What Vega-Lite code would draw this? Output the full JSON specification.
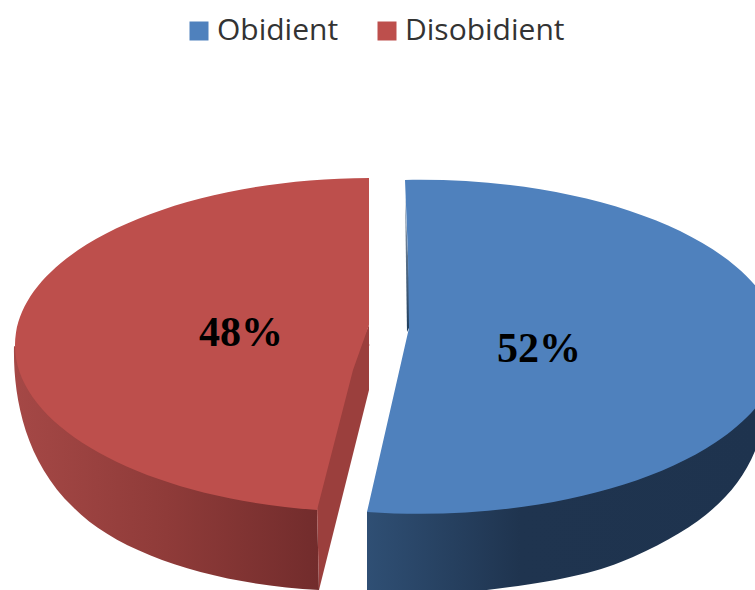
{
"$schema":"https://vega.github.io/schema/vega-lite/v6.json",
"width":755,"height":590,"padding":0,"autosize":"none",
"background":"white",
"view":{"stroke":null},
"data":{"values":[{"group":"Obidient","share":0.52},{"group":"Disobidient","share":0.48}]},
"encoding":{
 "x":{"field":"group","type":"nominal","axis":null,"scale":{"type":"point","padding":0,"domain":["Obidient","Disobidient"],"range":[410,369]}},
 "y":{"field":"group","type":"nominal","axis":null,"scale":{"type":"point","padding":0,"domain":["Obidient","Disobidient"],"range":[346,345]}}
},
"layer":[
 {"mark":{"type":"point","filled":true,"opacity":1,"shape":"square","size":1,"strokeWidth":0},
  "encoding":{
   "color":{"field":"group","type":"nominal","scale":{"domain":["Obidient","Disobidient"],"range":["#4f81bd","#bd4f4c"]},
     "legend":{"title":null,"orient":"none","legendX":184,"legendY":16,"direction":"horizontal","columns":2,"symbolType":"square","symbolSize":361,"symbolStrokeWidth":0,"symbolOpacity":1,"labelFont":"Open Sans","labelFontSize":30,"labelColor":"#333333","labelOffset":3,"columnPadding":33,"padding":0}}
  }},
 {"transform":[{"filter":"datum.group==='Disobidient'"}],
  "mark":{"type":"point","filled":true,"opacity":1,"size":4,"strokeWidth":0,"shape":"M-355,1 L-52,160 L-50,245 C-150,240 -250,210 -296,162 C-345,115 -356,50 -355,1 Z",
  "fill":{"gradient":"linear","x1":0,"x2":1,"y1":0,"y2":0,"stops":[{"offset":0,"color":"#a54846"},{"offset":0.5,"color":"#8f3b39"},{"offset":1,"color":"#722c2c"}]}}},
 {"transform":[{"filter":"datum.group==='Disobidient'"}],
  "mark":{"type":"point","filled":true,"opacity":1,"size":4,"strokeWidth":0,"fill":"#9b3f3d","shape":"M0,-20 L0,45 L-50,245 L-52,160 L-20,25 Z"}},
 {"transform":[{"filter":"datum.group==='Obidient'"}],
  "mark":{"type":"point","filled":true,"opacity":1,"size":4,"strokeWidth":0,"shape":"M-43,166 L-30,150 L360,-3 L360,40 C352,125 315,170 223,211 C170,235 100,243 -43,256 Z",
  "fill":{"gradient":"linear","x1":0,"x2":1,"y1":0,"y2":0,"stops":[{"offset":0,"color":"#2f4f74"},{"offset":0.38,"color":"#1f344f"},{"offset":1,"color":"#1e334e"}]}}},
 {"transform":[{"filter":"datum.group==='Obidient'"}],
  "mark":{"type":"point","filled":true,"opacity":1,"size":4,"strokeWidth":0,"shape":"M-5,-150 L-3,-14 L1,-22 L-2,-90 Z",
  "fill":{"gradient":"linear","x1":0,"x2":0,"y1":0,"y2":1,"stops":[{"offset":0,"color":"#8d9db0"},{"offset":1,"color":"#1d3c5c"}]}}},
 {"transform":[{"filter":"datum.group==='Obidient'"}],
  "mark":{"type":"point","filled":true,"opacity":1,"size":4,"strokeWidth":0,"fill":"#4f81bd","shape":"M-5,-166 A360,167 0 1 1 -43,166 L-1,-18 L-2,-90 Z"}},
 {"transform":[{"filter":"datum.group==='Disobidient'"}],
  "mark":{"type":"point","filled":true,"opacity":1,"size":4,"strokeWidth":0,"fill":"#bd4f4c","shape":"M0,-167 A357,167 0 0 0 -52,165 L-16,25 L0,-20 Z"}},
 {"transform":[{"filter":"datum.group==='Obidient'"}],
  "mark":{"type":"text","font":"Liberation Serif","fontWeight":"bold","fontSize":42,"color":"#000000","baseline":"middle","dx":129,"dy":3},
  "encoding":{"text":{"field":"share","type":"quantitative","format":".0%"}}},
 {"transform":[{"filter":"datum.group==='Disobidient'"}],
  "mark":{"type":"text","font":"Liberation Serif","fontWeight":"bold","fontSize":42,"color":"#000000","baseline":"middle","dx":-128,"dy":-12},
  "encoding":{"text":{"field":"share","type":"quantitative","format":".0%"}}}
]
}
